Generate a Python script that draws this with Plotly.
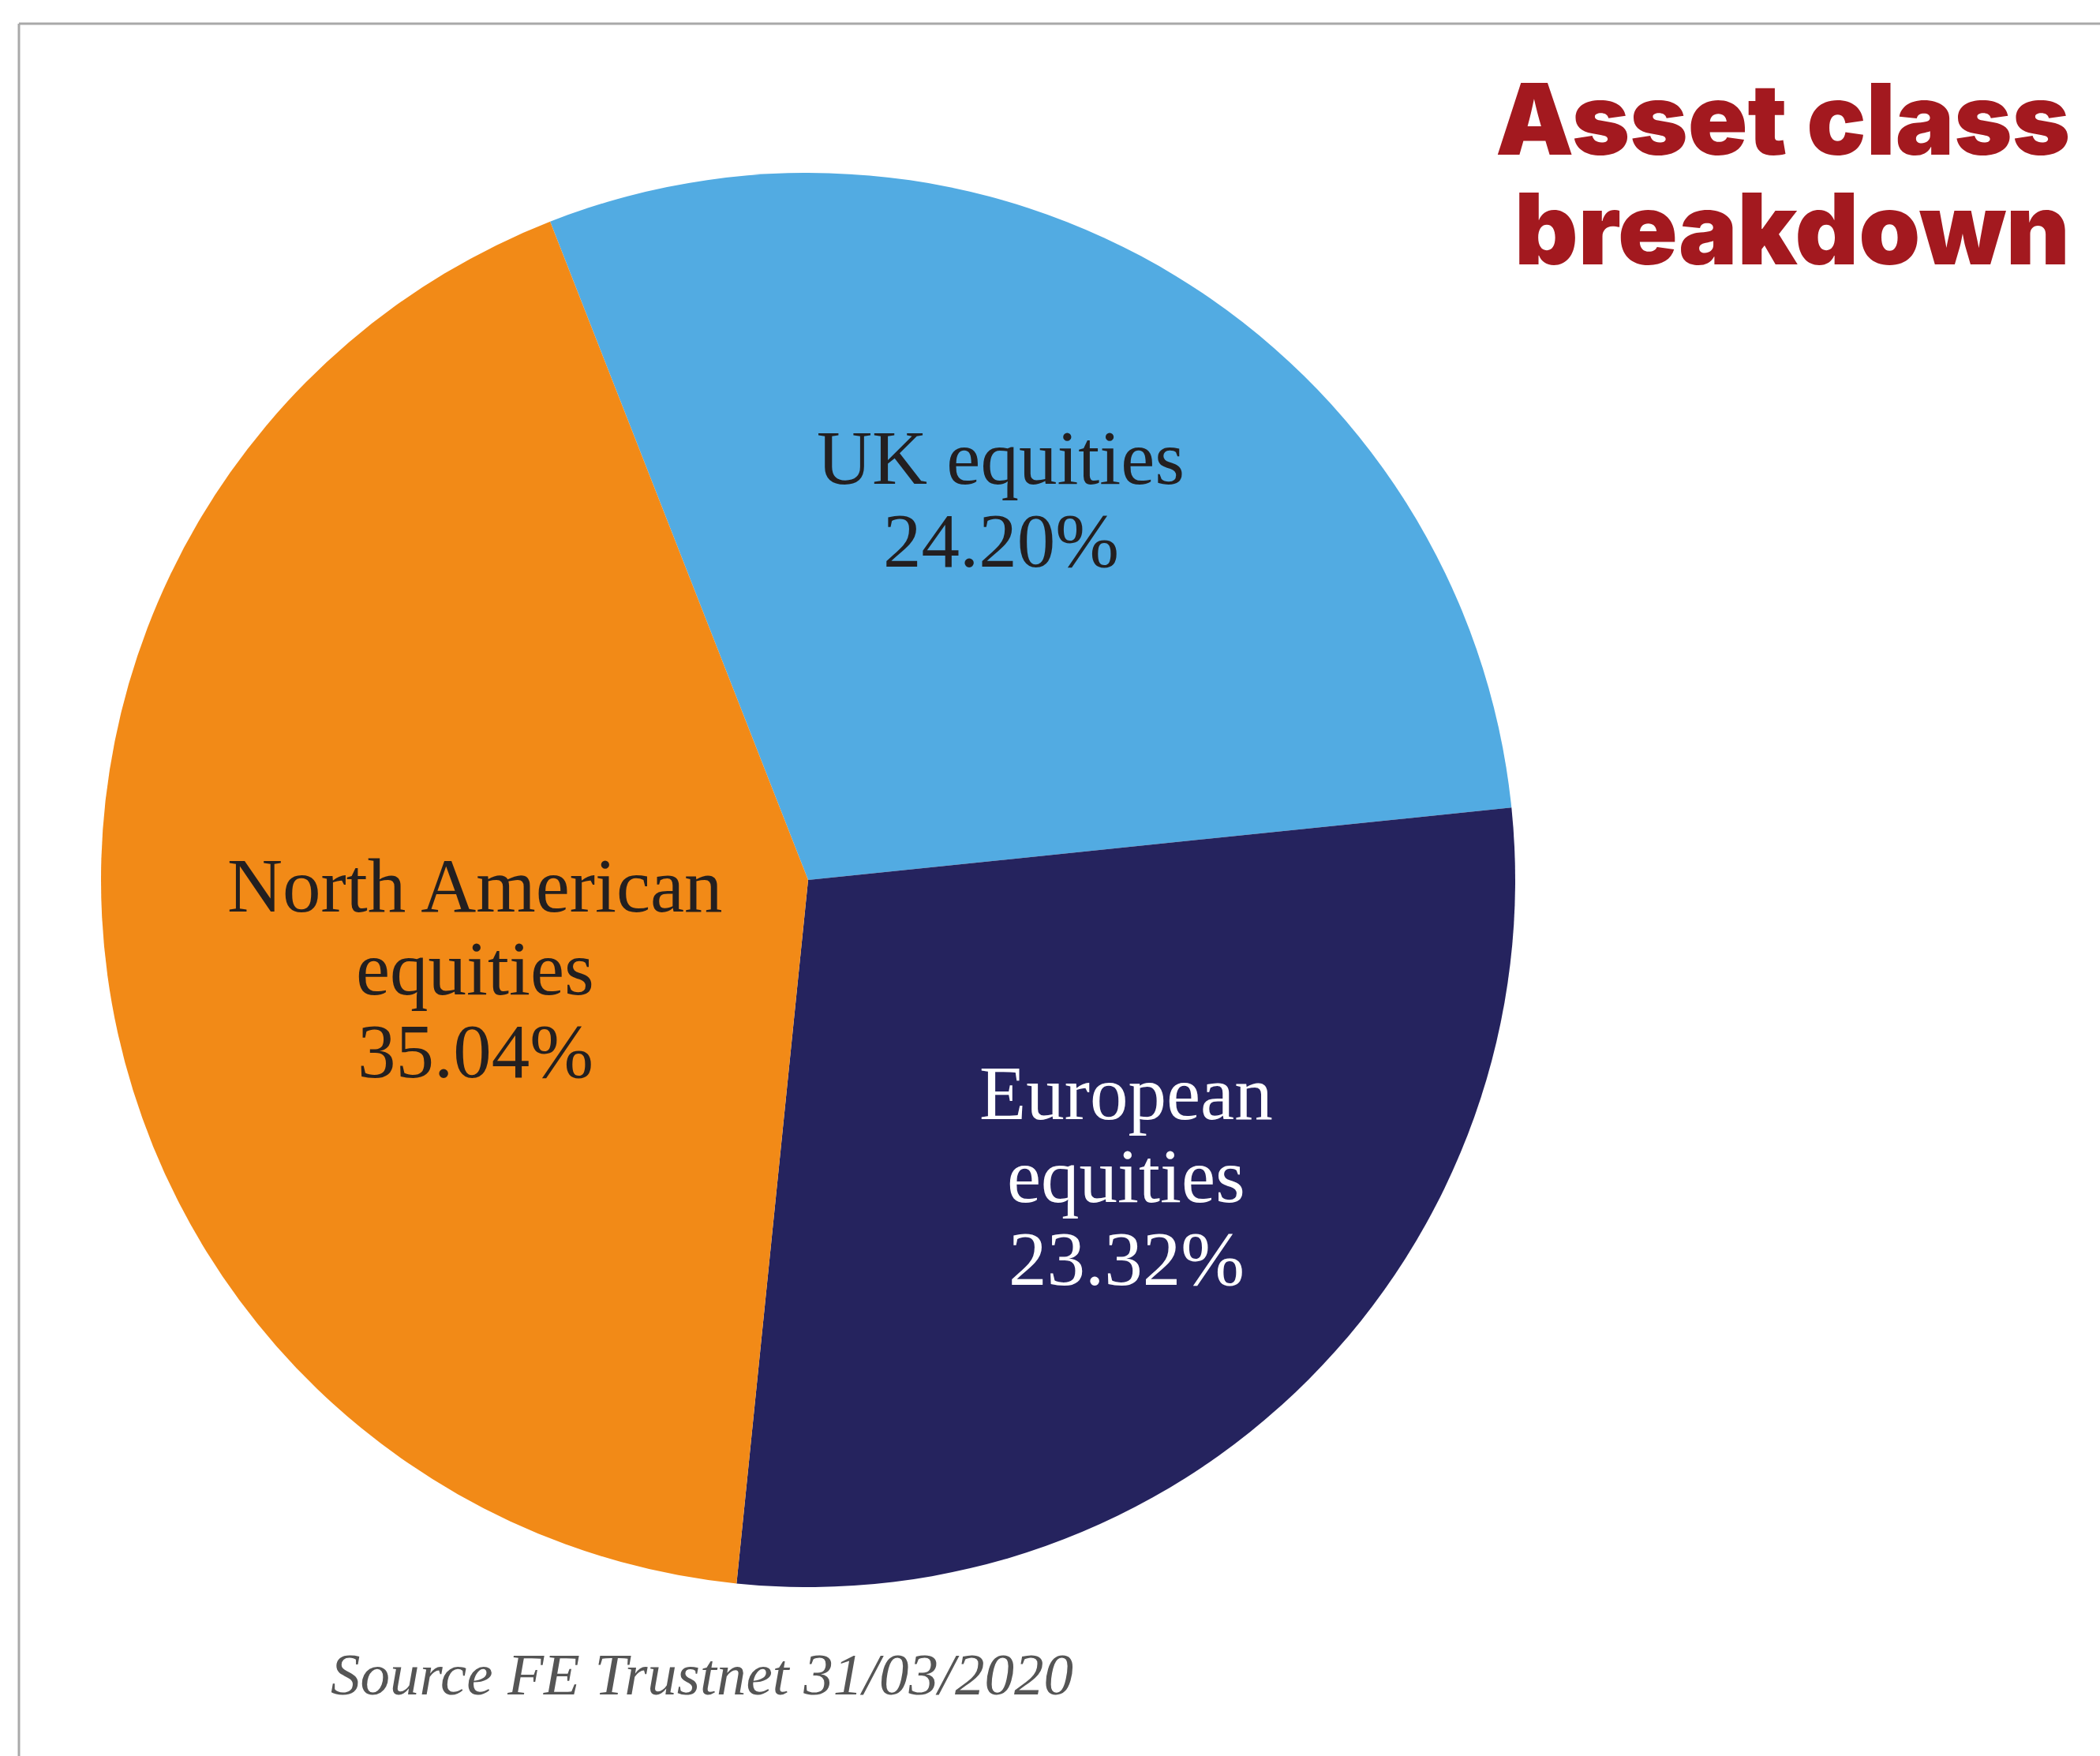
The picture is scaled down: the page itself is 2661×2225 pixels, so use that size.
import plotly.graph_objects as go

# Asset class breakdown (FE Trustnet, 31/03/2020)
categories = ["UK equities", "European equities", "North American equities"]
values = [24.20, 23.32, 35.04]
label_lines = [["UK equities"], ["European", "equities"], ["North American", "equities"]]
slice_colors = ["#52ABE2", "#25235E", "#F28A17"]
label_colors = ["#231F20", "#FFFFFF", "#231F20"]
title_lines = ["Asset class", "breakdown"]
source_note = "Source FE Trustnet 31/03/2020"

W, H = 2661, 2225
CX, CY, R = 1024, 1115, 896          # pie centre and radius in pixels

# label block anchors: (centre x, first baseline y) in pixels
label_anchor = [(1268, 613), (1427, 1418), (602, 1155)]
LABEL_SIZE = 97
LINE_STEP = 105

def px_x(x):
    return x / W

def px_y(y):
    return 1 - y / H

fig = go.Figure(
    go.Pie(
        labels=categories,
        values=values,
        sort=False,
        direction="clockwise",
        rotation=-21.4,
        marker=dict(colors=slice_colors, line=dict(width=0)),
        textinfo="none",
        hoverinfo="label+value",
        showlegend=False,
        domain=dict(x=[px_x(CX - R), px_x(CX + R)],
                    y=[px_y(CY + R), px_y(CY - R)]),
    )
)

annotations = []

def add_line(text, x, baseline, size, family, color, ascent_mid, weight="normal",
             style="normal", xanchor="center"):
    annotations.append(dict(
        text=text, x=px_x(x), y=px_y(baseline - ascent_mid * size),
        xref="paper", yref="paper", xanchor=xanchor, yanchor="middle",
        showarrow=False, borderpad=0,
        font=dict(family=family, size=size, color=color, weight=weight, style=style),
    ))

# slice labels: name lines followed by the percentage
for lines, val, (ax, ay), col in zip(label_lines, values, label_anchor, label_colors):
    for i, txt in enumerate(lines + [f"{val:.2f}%"]):
        add_line(txt, ax, ay + i * LINE_STEP, LABEL_SIZE, "Liberation Serif", col, 0.3375)

# title, right aligned
for i, txt in enumerate(title_lines):
    add_line(txt, 2624, 196 + i * 139, 125, "Inter", "#A3191F", 0.364,
             weight=900, xanchor="right")

# source note
add_line(source_note, 889, 2147, 75, "Liberation Serif", "#555555", 0.3375, style="italic")

frame = dict(type="line", xref="paper", yref="paper",
             line=dict(color="#A9A9A9", width=3))

fig.update_layout(
    width=W, height=H, autosize=False,
    margin=dict(l=0, r=0, t=0, b=0),
    paper_bgcolor="white", plot_bgcolor="white",
    annotations=annotations,
    shapes=[
        dict(frame, x0=px_x(24), y0=px_y(30), x1=1, y1=px_y(30)),
        dict(frame, x0=px_x(24), y0=px_y(30), x1=px_x(24), y1=0),
    ],
)

fig.write_html("out.html")
